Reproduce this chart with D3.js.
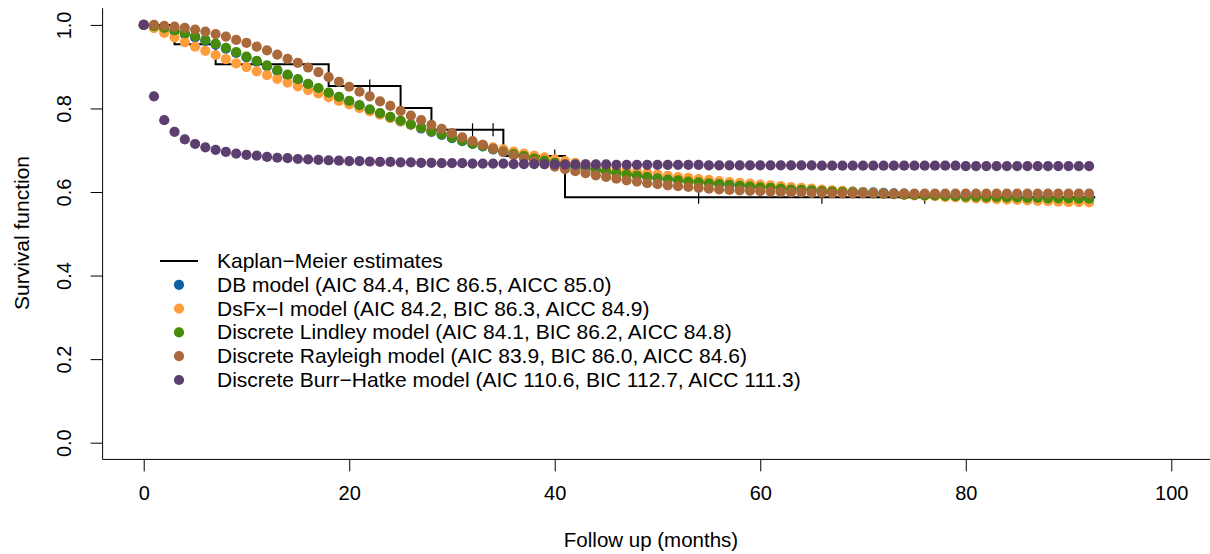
<!DOCTYPE html>
<html>
<head>
<meta charset="utf-8">
<script src="https://cdn.jsdelivr.net/npm/d3@7"></script>
<style>
  body { margin: 0; background: #fff; }
  svg { font-family: "Liberation Sans", Arial, Helvetica, sans-serif; }
</style>
</head>
<body>
<div id="chart"></div>
<script>
// follow up months at which the models are evaluated (0..92)
var months = d3.range(0, 93);

// fitted survival
var dbModel = [
  1.000, 0.996, 0.991, 0.985, 0.978, 0.970, 0.962, 0.953, 0.943, 0.933,
  0.922, 0.912, 0.901, 0.890, 0.879, 0.868, 0.857, 0.847, 0.836, 0.826,
  0.816, 0.806, 0.796, 0.787, 0.778, 0.769, 0.761, 0.752, 0.744, 0.737,
  0.729, 0.722, 0.715, 0.709, 0.702, 0.696, 0.690, 0.685, 0.680, 0.675,
  0.670, 0.665, 0.661, 0.657, 0.653, 0.650, 0.646, 0.643, 0.640, 0.637,
  0.634, 0.632, 0.629, 0.627, 0.625, 0.623, 0.621, 0.619, 0.617, 0.615,
  0.613, 0.612, 0.610, 0.608, 0.607, 0.606, 0.604, 0.603, 0.602, 0.601,
  0.600, 0.599, 0.598, 0.597, 0.596, 0.595, 0.594, 0.593, 0.592, 0.591,
  0.590, 0.590, 0.589, 0.589, 0.588, 0.588, 0.587, 0.587, 0.586, 0.586,
  0.585, 0.585, 0.584
];
var dsfxModel = [
  1.000, 0.992, 0.981, 0.970, 0.959, 0.948, 0.938, 0.928, 0.918, 0.908,
  0.899, 0.889, 0.880, 0.871, 0.862, 0.853, 0.844, 0.836, 0.827, 0.818,
  0.810, 0.801, 0.793, 0.785, 0.777, 0.769, 0.761, 0.754, 0.746, 0.739,
  0.732, 0.726, 0.719, 0.713, 0.707, 0.702, 0.697, 0.692, 0.687, 0.683,
  0.678, 0.674, 0.670, 0.666, 0.662, 0.658, 0.655, 0.651, 0.648, 0.645,
  0.642, 0.639, 0.636, 0.634, 0.631, 0.629, 0.626, 0.624, 0.622, 0.620,
  0.618, 0.616, 0.614, 0.612, 0.610, 0.608, 0.606, 0.604, 0.603, 0.601,
  0.599, 0.598, 0.596, 0.595, 0.593, 0.592, 0.591, 0.590, 0.588, 0.587,
  0.586, 0.585, 0.584, 0.583, 0.582, 0.581, 0.580, 0.579, 0.578, 0.577,
  0.576, 0.576, 0.575
];
var lindleyModel = [
  1.000, 0.997, 0.993, 0.987, 0.980, 0.973, 0.964, 0.955, 0.945, 0.935,
  0.924, 0.914, 0.903, 0.892, 0.881, 0.870, 0.859, 0.849, 0.838, 0.828,
  0.818, 0.808, 0.798, 0.789, 0.780, 0.771, 0.762, 0.754, 0.746, 0.738,
  0.730, 0.723, 0.716, 0.710, 0.703, 0.697, 0.691, 0.686, 0.680, 0.675,
  0.670, 0.665, 0.661, 0.657, 0.653, 0.649, 0.646, 0.642, 0.639, 0.636,
  0.633, 0.630, 0.628, 0.625, 0.623, 0.621, 0.619, 0.617, 0.615, 0.613,
  0.611, 0.610, 0.608, 0.606, 0.605, 0.604, 0.602, 0.601, 0.600, 0.599,
  0.598, 0.597, 0.596, 0.595, 0.594, 0.593, 0.592, 0.592, 0.591, 0.590,
  0.589, 0.589, 0.588, 0.588, 0.587, 0.587, 0.586, 0.586, 0.585, 0.585,
  0.585, 0.584, 0.584
];
var rayleighModel = [
  1.000, 1.000, 0.998, 0.996, 0.993, 0.989, 0.984, 0.978, 0.972, 0.964,
  0.957, 0.948, 0.939, 0.929, 0.919, 0.909, 0.898, 0.887, 0.875, 0.864,
  0.852, 0.840, 0.829, 0.817, 0.806, 0.794, 0.783, 0.772, 0.761, 0.751,
  0.741, 0.731, 0.722, 0.713, 0.704, 0.696, 0.688, 0.681, 0.674, 0.667,
  0.661, 0.655, 0.650, 0.645, 0.640, 0.636, 0.632, 0.628, 0.625, 0.621,
  0.619, 0.616, 0.614, 0.612, 0.610, 0.608, 0.606, 0.605, 0.604, 0.603,
  0.602, 0.601, 0.600, 0.599, 0.599, 0.598, 0.598, 0.597, 0.597, 0.597,
  0.597, 0.597, 0.596, 0.596, 0.596, 0.596, 0.596, 0.596, 0.596, 0.596,
  0.596, 0.596, 0.596, 0.596, 0.596, 0.596, 0.596, 0.596, 0.596, 0.596,
  0.596, 0.596, 0.596
];
var burrHatkeModel = [
  1.000, 0.829, 0.772, 0.744, 0.726, 0.715, 0.707, 0.701, 0.696, 0.692,
  0.689, 0.687, 0.684, 0.682, 0.681, 0.679, 0.678, 0.677, 0.676, 0.675,
  0.674, 0.674, 0.673, 0.672, 0.672, 0.671, 0.671, 0.670, 0.670, 0.669,
  0.669, 0.669, 0.668, 0.668, 0.668, 0.668, 0.667, 0.667, 0.667, 0.667,
  0.666, 0.666, 0.666, 0.666, 0.666, 0.666, 0.665, 0.665, 0.665, 0.665,
  0.665, 0.665, 0.665, 0.665, 0.665, 0.664, 0.664, 0.664, 0.664, 0.664,
  0.664, 0.664, 0.664, 0.664, 0.664, 0.664, 0.663, 0.663, 0.663, 0.663,
  0.663, 0.663, 0.663, 0.663, 0.663, 0.663, 0.663, 0.663, 0.663, 0.663,
  0.662, 0.662, 0.662, 0.662, 0.662, 0.662, 0.662, 0.662, 0.662, 0.662,
  0.662, 0.662, 0.662
];

// Kaplan-Meier step function and censoring times
var kmTimes = [0, 3, 7, 18, 25, 28, 35, 41, 92.6];
var kmSurv  = [1, 0.954, 0.906, 0.854, 0.801, 0.749, 0.686, 0.5875, 0.5875];
var censorTimes = [22, 32, 34, 40, 54, 66, 76];
var censorSurv  = [0.854, 0.749, 0.749, 0.686, 0.5875, 0.5875, 0.5875];

var xTicks = [0, 20, 40, 60, 80, 100];
var yTicks = [0, 0.2, 0.4, 0.6, 0.8, 1.0];

var seriesNames = [
  "DB model (AIC 84.4, BIC 86.5, AICC 85.0)",
  "DsFx\u2212I model (AIC 84.2, BIC 86.3, AICC 84.9)",
  "Discrete Lindley model (AIC 84.1, BIC 86.2, AICC 84.8)",
  "Discrete Rayleigh model (AIC 83.9, BIC 86.0, AICC 84.6)",
  "Discrete Burr\u2212Hatke model (AIC 110.6, BIC 112.7, AICC 111.3)"
];
var seriesValues = [dbModel, dsfxModel, lindleyModel, rayleighModel, burrHatkeModel];
var seriesColors = ["#0f5fa6", "#ff9d3c", "#468b0a", "#aa693b", "#5c3e6f"];

var width = 1210, height = 554;

var svg = d3.select("#chart").append("svg")
  .attr("width", width)
  .attr("height", height);

// plot region (R style, 4% padding on each axis)
var x = d3.scaleLinear().domain([-4, 104]).range([102.6, 1212.4]);
var y = d3.scaleLinear().domain([-0.04, 1.04]).range([459.4, 8.2]);

// L shaped box
svg.append("path")
  .attr("d", "M" + x(-4) + "," + y(1.04) + "V" + y(-0.04) + "H" + width)
  .attr("fill", "none")
  .attr("stroke", "#000")
  .attr("stroke-width", 1);

var xAxis = svg.append("g")
  .attr("transform", "translate(0," + y(-0.04) + ")")
  .call(d3.axisBottom(x).tickValues(xTicks).tickSize(12).tickPadding(14).tickFormat(d3.format("d")));
xAxis.select(".domain").remove();
xAxis.selectAll("text").attr("font-size", 20).attr("fill", "#000").style("font-family", "inherit");

var yAxis = svg.append("g")
  .attr("transform", "translate(" + x(-4) + ",0)")
  .call(d3.axisLeft(y).tickValues(yTicks).tickSize(12).tickFormat(d3.format(".1f")));
yAxis.select(".domain").remove();
yAxis.selectAll("text")
  .attr("x", null).attr("dy", null)
  .attr("text-anchor", "middle")
  .attr("transform", "translate(-31.6,0) rotate(-90)")
  .attr("font-size", 20).attr("fill", "#000").style("font-family", "inherit");

// axis titles
svg.append("text")
  .attr("x", 651).attr("y", 547)
  .attr("text-anchor", "middle")
  .attr("font-size", 20.5)
  .text("Follow up (months)");

svg.append("text")
  .attr("transform", "translate(29,233) rotate(-90)")
  .attr("text-anchor", "middle")
  .attr("font-size", 21)
  .text("Survival function");

// Kaplan-Meier curve
var kmData = kmTimes.map(function(t, i) { return [t, kmSurv[i]]; });
var kmLine = d3.line()
  .x(function(d) { return x(d[0]); })
  .y(function(d) { return y(d[1]); })
  .curve(d3.curveStepAfter);

svg.append("path")
  .datum(kmData)
  .attr("d", kmLine)
  .attr("fill", "none")
  .attr("stroke", "#000")
  .attr("stroke-width", 2);

svg.selectAll(".censor")
  .data(censorTimes)
  .enter().append("line")
  .attr("class", "censor")
  .attr("x1", function(d) { return x(d); })
  .attr("x2", function(d) { return x(d); })
  .attr("y1", function(d, i) { return y(censorSurv[i]) - 6.5; })
  .attr("y2", function(d, i) { return y(censorSurv[i]) + 6.5; })
  .attr("stroke", "#000")
  .attr("stroke-width", 1.2);

// model points, drawn in legend order
seriesValues.forEach(function(vals, k) {
  svg.append("g")
    .selectAll("circle")
    .data(vals)
    .enter().append("circle")
    .attr("cx", function(d, i) { return x(months[i]); })
    .attr("cy", function(d) { return y(d); })
    .attr("r", 5.1)
    .attr("fill", seriesColors[k]);
});

// legend
var legend = svg.append("g");
var rowY = 261, rowStep = 23.8;

legend.append("line")
  .attr("x1", 160).attr("x2", 198)
  .attr("y1", rowY).attr("y2", rowY)
  .attr("stroke", "#000").attr("stroke-width", 2);
legend.append("text")
  .attr("x", 217).attr("y", rowY + 7)
  .attr("font-size", 21)
  .text("Kaplan\u2212Meier estimates");

seriesNames.forEach(function(name, k) {
  var yy = rowY + rowStep * (k + 1);
  legend.append("circle")
    .attr("cx", 179).attr("cy", yy).attr("r", 5.1)
    .attr("fill", seriesColors[k]);
  legend.append("text")
    .attr("x", 217).attr("y", yy + 7)
    .attr("font-size", 21)
    .text(name);
});
</script>
</body>
</html>
